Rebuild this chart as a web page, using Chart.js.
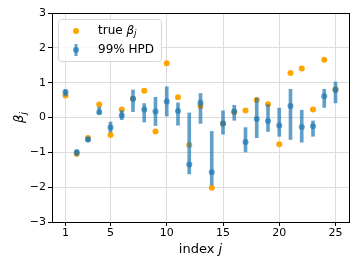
<!DOCTYPE html>
<html>
<head>
<meta charset="utf-8">
<script src="https://cdn.jsdelivr.net/npm/chart.js@4"></script>
<style>
  html, body { margin: 0; padding: 0; background: #fff; }
  #wrap { width: 357px; height: 268px; position: relative; }
</style>
</head>
<body>
<div id="wrap"><canvas id="myChart" width="357" height="268"></canvas></div>
<script>
const indices = [1,2,3,4,5,6,7,8,9,10,11,12,13,14,15,16,17,18,19,20,21,22,23,24,25];
const trueBeta = [0.63,-1.04,-0.59,0.37,-0.5,0.23,0.54,0.77,-0.4,1.56,0.58,-0.79,0.33,-2.02,-0.17,0.15,0.2,0.5,0.38,-0.77,1.28,1.41,0.23,1.66,0.81];
const hpdMean = [0.73,-1.0,-0.63,0.15,-0.29,0.06,0.54,0.23,0.17,0.46,0.19,-1.35,0.42,-1.57,-0.17,0.17,-0.7,-0.04,-0.1,-0.23,0.33,-0.27,-0.25,0.61,0.79];
const hpdLow = [0.62,-1.1,-0.7,0.1,-0.42,-0.06,0.17,-0.13,-0.23,0.04,-0.22,-1.62,-0.17,-1.94,-0.48,-0.08,-0.99,-0.58,-0.4,-0.54,-0.63,-0.71,-0.54,0.29,0.42];
const hpdHigh = [0.79,-0.93,-0.56,0.3,-0.13,0.2,0.79,0.4,0.58,0.88,0.42,0.13,0.69,-0.4,0.19,0.35,-0.29,0.56,0.37,0.27,0.81,0.21,-0.1,0.81,1.02];
const xTicks = [1,5,10,15,20,25];
const yTicks = [-3,-2,-1,0,1,2,3];

const ORANGE = '#ffa500';
const BLUE = 'rgba(31,119,180,0.7)';
const FONT = '"DejaVu Sans", sans-serif';

const fmt = v => (v < 0 ? '\u2212' + Math.abs(v) : String(v));

// extra drawing: frame, legend box, axis labels with italic parts
const extras = {
  id: 'extras',
  afterDraw(chart) {
    const ctx = chart.ctx;
    const a = chart.chartArea;
    ctx.save();
    ctx.strokeStyle = '#000';
    ctx.lineWidth = 1;
    ctx.strokeRect(Math.round(a.left) + 0.5, Math.round(a.top) + 0.5,
      Math.round(a.right - a.left), Math.round(a.bottom - a.top));

    // legend
    const lx = 58.5, ly = 19.5, lw = 103, lh = 42;
    ctx.fillStyle = 'rgba(255,255,255,0.8)';
    ctx.strokeStyle = '#d6d6d6';
    ctx.beginPath();
    ctx.roundRect(lx, ly, lw, lh, 3);
    ctx.fill();
    ctx.stroke();

    ctx.fillStyle = ORANGE;
    ctx.beginPath();
    ctx.arc(76, 31, 3, 0, Math.PI * 2);
    ctx.fill();

    ctx.strokeStyle = BLUE;
    ctx.lineWidth = 3;
    ctx.beginPath();
    ctx.moveTo(76, 44);
    ctx.lineTo(76, 56);
    ctx.stroke();
    ctx.fillStyle = BLUE;
    ctx.beginPath();
    ctx.arc(76, 50, 3, 0, Math.PI * 2);
    ctx.fill();

    ctx.fillStyle = '#000';
    ctx.textBaseline = 'middle';
    ctx.textAlign = 'left';
    ctx.font = '12px ' + FONT;
    ctx.fillText('true ', 98, 31);
    let w = ctx.measureText('true ').width;
    ctx.font = 'italic 12px ' + FONT;
    ctx.fillText('\u03b2', 98 + w, 31);
    w += ctx.measureText('\u03b2').width;
    ctx.font = 'italic 9px ' + FONT;
    ctx.fillText('j', 98 + w, 34);
    ctx.font = '12px ' + FONT;
    ctx.fillText('99% HPD', 98, 50);

    // x label
    ctx.textBaseline = 'alphabetic';
    const t1 = 'index ';
    ctx.font = '13px ' + FONT;
    const w1 = ctx.measureText(t1).width;
    ctx.font = 'italic 13px ' + FONT;
    const w2 = ctx.measureText('j').width;
    const cx = (a.left + a.right) / 2;
    const sx = cx - (w1 + w2) / 2;
    ctx.font = '13px ' + FONT;
    ctx.fillText(t1, sx, 253);
    ctx.font = 'italic 13px ' + FONT;
    ctx.fillText('j', sx + w1, 253);

    // y label
    ctx.textBaseline = 'middle';
    ctx.translate(20, (a.top + a.bottom) / 2);
    ctx.rotate(-Math.PI / 2);
    ctx.font = 'italic 13px ' + FONT;
    const wb = ctx.measureText('\u03b2').width;
    ctx.font = 'italic 9px ' + FONT;
    const wj = ctx.measureText('j').width;
    ctx.font = 'italic 13px ' + FONT;
    ctx.fillText('\u03b2', -(wb + wj) / 2, 0);
    ctx.font = 'italic 9px ' + FONT;
    ctx.fillText('j', -(wb + wj) / 2 + wb, 4);
    ctx.restore();
  }
};

const ctx = document.getElementById('myChart');
const myChart = new Chart(ctx, {
  data: {
    datasets: [
      {
        type: 'scatter',
        label: 'true beta',
        data: indices.map((x, i) => ({ x: x, y: trueBeta[i] })),
        backgroundColor: ORANGE,
        borderWidth: 0,
        pointRadius: 3,
        order: 3
      },
      {
        type: 'bar',
        label: 'hpd bars',
        data: indices.map((x, i) => ({ x: x, y: [hpdLow[i], hpdHigh[i]] })),
        backgroundColor: BLUE,
        borderWidth: 0,
        barThickness: 3,
        grouped: false,
        order: 2
      },
      {
        type: 'scatter',
        label: '99% HPD',
        data: indices.map((x, i) => ({ x: x, y: hpdMean[i] })),
        backgroundColor: BLUE,
        borderWidth: 0,
        pointRadius: 3,
        order: 1
      }
    ]
  },
  options: {
    responsive: false,
    animation: false,
    devicePixelRatio: 1,
    layout: { padding: { left: 0, top: 13, right: 8, bottom: 0 } },
    plugins: { legend: { display: false }, tooltip: { enabled: false } },
    scales: {
      x: {
        type: 'linear',
        min: -0.2,
        max: 26.2,
        offset: false,
        afterBuildTicks: s => { s.ticks = xTicks.map(v => ({ value: v })); },
        afterFit: s => { s.height = 46; },
        grid: { color: '#dcdcdc', tickColor: '#000', tickLength: 4, offset: false },
        border: { color: '#000' },
        ticks: { color: '#000', font: { family: FONT, size: 11 }, padding: 1, maxRotation: 0, callback: v => fmt(v) }
      },
      y: {
        min: -3,
        max: 3,
        afterBuildTicks: s => { s.ticks = yTicks.map(v => ({ value: v })); },
        afterFit: s => { s.width = 52; },
        grid: { color: '#dcdcdc', tickColor: '#000', tickLength: 4 },
        border: { color: '#000' },
        ticks: { color: '#000', font: { family: FONT, size: 11 }, padding: 2, callback: v => fmt(v) }
      }
    }
  },
  plugins: [extras]
});
</script>
</body>
</html>
